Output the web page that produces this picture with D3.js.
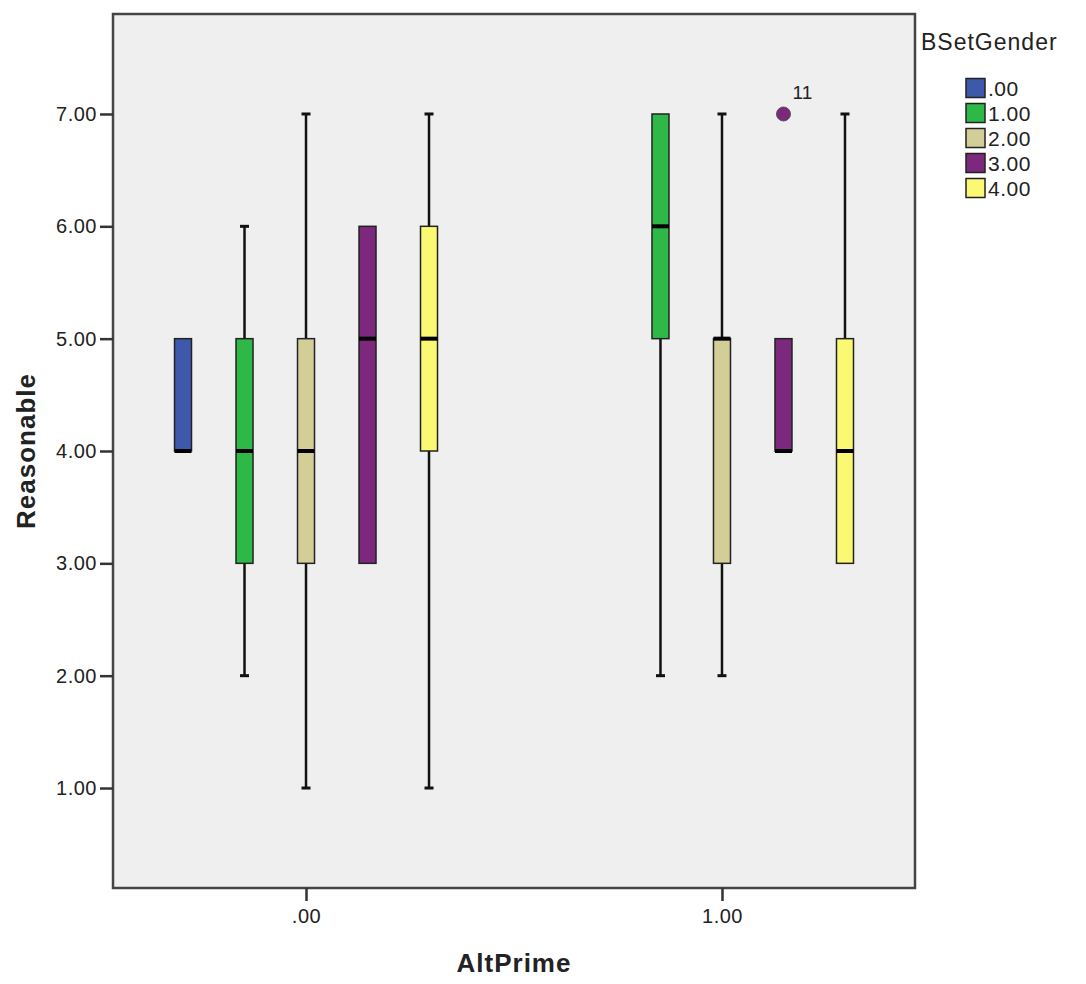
<!DOCTYPE html>
<html>
<head>
<meta charset="utf-8">
<script src="https://cdn.jsdelivr.net/npm/d3@7"></script>
<style>
  body { margin: 0; background: #fff; }
  svg text { font-family: Arial, "Liberation Sans", sans-serif; fill: #222; }
</style>
</head>
<body>
<div id="chart"></div>
<script>
'use strict';

var altPrime = ['.00', '1.00'];
var genders = ['.00', '1.00', '2.00', '3.00', '4.00'];
var genderColors = ['#3e58ac', '#2eb848', '#d3ce97', '#7c287d', '#fbf873'];
var yTicks = [1, 2, 3, 4, 5, 6, 7];

// box stats per AltPrime group, in gender order (null = no cases)
var lowAlt0 = [4, 2, 1, 3, 1];
var q1Alt0 = [4, 3, 3, 3, 4];
var medAlt0 = [4, 4, 4, 5, 5];
var q3Alt0 = [5, 5, 5, 6, 6];
var highAlt0 = [5, 6, 7, 6, 7];

var lowAlt1 = [null, 2, 2, 4, 3];
var q1Alt1 = [null, 5, 3, 4, 3];
var medAlt1 = [null, 6, 5, 4, 4];
var q3Alt1 = [null, 7, 5, 5, 5];
var highAlt1 = [null, 7, 7, 5, 7];

var outlierGroup = ['1.00'];
var outlierGender = ['3.00'];
var outlierValue = [7];
var outlierLabel = ['11'];

var width = 1086, height = 984;
var plotLeft = 113, plotRight = 915, plotTop = 14, plotBottom = 888;

var svg = d3.select('#chart').append('svg')
  .attr('width', width)
  .attr('height', height);

var x = d3.scalePoint().domain(altPrime).range([plotLeft, plotRight]).padding(0.464);
var xSub = d3.scaleBand().domain(genders).range([-153.75, 153.75]);
var y = d3.scaleLinear().domain([0.11, 7.89]).range([plotBottom, plotTop]);
var color = d3.scaleOrdinal().domain(genders).range(genderColors);

svg.append('rect')
  .attr('x', plotLeft).attr('y', plotTop)
  .attr('width', plotRight - plotLeft).attr('height', plotBottom - plotTop)
  .attr('fill', '#efefef');

var stats = [
  [lowAlt0, q1Alt0, medAlt0, q3Alt0, highAlt0],
  [lowAlt1, q1Alt1, medAlt1, q3Alt1, highAlt1]
];

var boxes = [];
altPrime.forEach(function (g, gi) {
  var s = stats[gi];
  genders.forEach(function (k, ki) {
    if (s[2][ki] === null) return;
    boxes.push({
      group: g, gender: k,
      low: s[0][ki], q1: s[1][ki], med: s[2][ki], q3: s[3][ki], high: s[4][ki]
    });
  });
});

var boxW = 17, capW = 9;
var cx = function (d) { return x(d.group) + xSub(d.gender) + xSub.bandwidth() / 2; };

var boxG = svg.selectAll('g.box')
  .data(boxes)
  .enter()
  .append('g')
  .attr('class', 'box');

// whiskers
boxG.filter(function (d) { return d.high > d.q3; })
  .append('line')
  .attr('x1', cx).attr('x2', cx)
  .attr('y1', function (d) { return y(d.q3); })
  .attr('y2', function (d) { return y(d.high); })
  .attr('stroke', '#111').attr('stroke-width', 2.5);
boxG.filter(function (d) { return d.high > d.q3; })
  .append('line')
  .attr('x1', function (d) { return cx(d) - capW / 2; })
  .attr('x2', function (d) { return cx(d) + capW / 2; })
  .attr('y1', function (d) { return y(d.high); })
  .attr('y2', function (d) { return y(d.high); })
  .attr('stroke', '#111').attr('stroke-width', 3);
boxG.filter(function (d) { return d.low < d.q1; })
  .append('line')
  .attr('x1', cx).attr('x2', cx)
  .attr('y1', function (d) { return y(d.q1); })
  .attr('y2', function (d) { return y(d.low); })
  .attr('stroke', '#111').attr('stroke-width', 2.5);
boxG.filter(function (d) { return d.low < d.q1; })
  .append('line')
  .attr('x1', function (d) { return cx(d) - capW / 2; })
  .attr('x2', function (d) { return cx(d) + capW / 2; })
  .attr('y1', function (d) { return y(d.low); })
  .attr('y2', function (d) { return y(d.low); })
  .attr('stroke', '#111').attr('stroke-width', 3);

boxG.append('rect')
  .attr('x', function (d) { return cx(d) - boxW / 2; })
  .attr('y', function (d) { return y(d.q3); })
  .attr('width', boxW)
  .attr('height', function (d) { return y(d.q1) - y(d.q3); })
  .attr('fill', function (d) { return color(d.gender); })
  .attr('stroke', '#222').attr('stroke-width', 1.5);

boxG.append('line')
  .attr('x1', function (d) { return cx(d) - boxW / 2; })
  .attr('x2', function (d) { return cx(d) + boxW / 2; })
  .attr('y1', function (d) { return y(d.med); })
  .attr('y2', function (d) { return y(d.med); })
  .attr('stroke', '#000').attr('stroke-width', 4);

// outliers
var outliers = outlierValue.map(function (v, i) {
  return { group: outlierGroup[i], gender: outlierGender[i], value: v, label: outlierLabel[i] };
});
svg.selectAll('circle.outlier')
  .data(outliers)
  .enter()
  .append('circle')
  .attr('class', 'outlier')
  .attr('cx', cx)
  .attr('cy', function (d) { return y(d.value); })
  .attr('r', 7)
  .attr('fill', function (d) { return color(d.gender); })
  .attr('stroke', '#555').attr('stroke-width', 1);
svg.selectAll('text.outlier')
  .data(outliers)
  .enter()
  .append('text')
  .attr('class', 'outlier')
  .attr('x', function (d) { return cx(d) + 9; })
  .attr('y', function (d) { return y(d.value) - 15; })
  .attr('font-size', 19)
  .text(function (d) { return d.label; });

// frame
svg.append('rect')
  .attr('x', plotLeft).attr('y', plotTop)
  .attr('width', plotRight - plotLeft).attr('height', plotBottom - plotTop)
  .attr('fill', 'none')
  .attr('stroke', '#444').attr('stroke-width', 2.5);

// axes
var yAxis = svg.append('g')
  .attr('transform', 'translate(' + plotLeft + ',0)')
  .call(d3.axisLeft(y).tickValues(yTicks).tickFormat(d3.format('.2f')).tickSize(13).tickPadding(3));
var xAxis = svg.append('g')
  .attr('transform', 'translate(0,' + plotBottom + ')')
  .call(d3.axisBottom(x).tickSize(13).tickPadding(8));
[yAxis, xAxis].forEach(function (a) {
  a.select('.domain').remove();
  a.selectAll('.tick line').attr('stroke', '#333').attr('stroke-width', 2.5);
  a.selectAll('.tick text').attr('font-size', 20).attr('fill', '#222')
    .style('letter-spacing', '0.5px')
    .style('font-family', 'Arial, "Liberation Sans", sans-serif');
});

svg.append('text')
  .attr('transform', 'translate(35,451) rotate(-90)')
  .attr('text-anchor', 'middle')
  .attr('font-size', 26)
  .attr('font-weight', 'bold')
  .style('letter-spacing', '1px')
  .text('Reasonable');

svg.append('text')
  .attr('x', 514)
  .attr('y', 972)
  .attr('text-anchor', 'middle')
  .attr('font-size', 26)
  .attr('font-weight', 'bold')
  .style('letter-spacing', '1px')
  .text('AltPrime');

// legend
var legend = svg.append('g');
legend.append('text')
  .attr('x', 921).attr('y', 50)
  .attr('font-size', 23)
  .style('letter-spacing', '1px')
  .text('BSetGender');
var rows = legend.selectAll('g.row')
  .data(genders)
  .enter()
  .append('g')
  .attr('class', 'row')
  .attr('transform', function (d, i) { return 'translate(966,' + (88 + i * 25) + ')'; });
rows.append('rect')
  .attr('x', 0).attr('y', -9.5)
  .attr('width', 19).attr('height', 19)
  .attr('fill', function (d) { return color(d); })
  .attr('stroke', '#222').attr('stroke-width', 1.5);
rows.append('text')
  .attr('x', 22).attr('y', 8)
  .attr('font-size', 21)
  .style('letter-spacing', '0.5px')
  .text(function (d) { return d; });
</script>
</body>
</html>
